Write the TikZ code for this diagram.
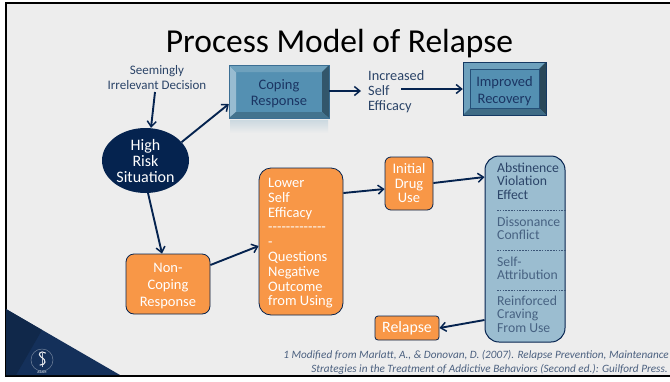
\documentclass[tikz,border=0pt]{standalone}
\usepackage{fontspec}
\setmainfont{Carlito}
\usetikzlibrary{arrows.meta,shapes.geometric}
\definecolor{navy}{HTML}{05234F}
\definecolor{bgc}{HTML}{EDEDED}
\definecolor{orangec}{HTML}{F89747}
\definecolor{steelc}{HTML}{5490B2}
\definecolor{paleb}{HTML}{9BBDD0}
\definecolor{txtb}{HTML}{2B4468}
\definecolor{boxt}{HTML}{1B3563}
\definecolor{cornerm}{HTML}{14305A}
\definecolor{cornerd}{HTML}{10284A}
\tikzset{x=1pt,y=-1pt,
 arrowline/.style={draw=navy,line width=1.9pt,-{Straight Barb[length=5.5pt,width=9pt,line width=1.5pt]}},
 orangebox/.style={draw=navy,line width=0.8pt,fill=orangec,rounded corners=8pt,text=white,inner sep=0pt,align=center,font=\fontsize{14.5}{17}\selectfont},
 plain/.style={text=txtb,align=left,inner sep=0pt,font=\fontsize{14.3}{15}\selectfont},
 blueitem/.style={text=txtb!75!paleb,align=left,inner sep=0pt,anchor=west,font=\fontsize{13.7}{13.3}\selectfont},
 sepline/.style={dash pattern=on 1.6pt off 1.2pt,draw=txtb!85!paleb,line width=0.6pt},
 bevelbox/.style={inner sep=0pt,align=center,text=boxt},
}
\begin{document}
\begin{tikzpicture}
\useasboundingbox (0,0) rectangle (670,381);
\fill[white] (0,0) rectangle (670,381);
\fill[bgc] (5,3) rectangle (670,376);
\draw[black,line width=2pt] (670,3) -- (5.5,3) -- (5.5,376) -- (670,376);
% corner
\fill[cornerm] (6,309) -- (120,375) -- (6,375) -- cycle;
\fill[cornerd] (6,309) -- (42,330) -- (16,375) -- (6,375) -- cycle;
\node[text=black,inner sep=0pt] (title) at (339.5,43.5) {\fontsize{33.5}{33.5}\selectfont Process Model of Relapse};
% logo
\node[circle,draw=white!40!cornerm,line width=0.5pt,minimum size=22pt,inner sep=0pt] (logo) at (42,360) {};
\draw[white!75!cornerm,line width=0.6pt] (logo.north) ++(0,4) -- ++(0,14);
\draw[white!90!cornerm,line width=1.1pt,line cap=round] (45.5,353) .. controls (41,350) and (37,354) .. (41,357) .. controls (47,360) and (46,365) .. (40,365);
\node[text=white!75!cornerm,inner sep=0pt,font=\bfseries\fontsize{3.6}{4}\selectfont] (asam) at (42,372.3) {ASAM};
% coping
\fill[bottom color=bgc,top color=steelc!22!bgc] (230,120) rectangle (328,133);
\fill[steelc] (229,65) rectangle (329,118);
\fill[steelc!60!white] (229,65) -- (236,72) -- (236,112) -- (229,118) -- cycle;
\fill[steelc!85!white] (229,65) -- (329,65) -- (322,72) -- (236,72) -- cycle;
\fill[steelc!60!black] (329,65) -- (329,118) -- (322,112) -- (322,72) -- cycle;
\fill[steelc!80!black] (229,118) -- (329,118) -- (322,112) -- (236,112) -- cycle;
\draw[steelc!70!navy,line width=0.8pt] (229,65) rectangle (329,118);
\node[bevelbox,minimum width=100pt,font=\fontsize{14.5}{16}\selectfont] (coping) at (279,93.5) {Coping\\Response};
% improved
\fill[steelc] (463,62) rectangle (546,115);
\fill[steelc!85!white] (463,62) -- (546,62) -- (539,69) -- (470,69) -- (470,108) -- (463,115) -- cycle;
\fill[steelc!50!black] (546,62) -- (546,115) -- (539,108) -- (539,69) -- cycle;
\fill[steelc!75!black] (463,115) -- (546,115) -- (539,108) -- (470,108) -- cycle;
\draw[navy!60!steelc,line width=0.5pt] (470,69) rectangle (539,108);
\draw[navy!80!steelc,line width=0.8pt] (463,62) rectangle (546,115);
\node[bevelbox,minimum width=83pt,font=\fontsize{14.5}{17}\selectfont] (improved) at (504.5,91) {Improved\\Recovery};
% ellipse
\node[ellipse,fill=navy,minimum width=87pt,minimum height=65pt,inner sep=0pt,text=white,align=center,font=\fontsize{16}{16}\selectfont] (high) at (145.5,160.5) {High\\Risk\\Situation};
\node[align=center,text=txtb,inner sep=0pt,font=\fontsize{13}{15}\selectfont] (sid) at (157,78) {Seemingly\\Irrelevant Decision};
\node[plain,anchor=west] (self) at (368,91.5) {Increased\\Self\\Efficacy};
\coordinate (selfR) at (401,89);
% orange
\node[orangebox,minimum width=84pt,minimum height=60pt,text depth=0pt] (noncoping) at (168,284) {};
\node[text=white,align=center,inner sep=0pt,font=\fontsize{14.5}{17}\selectfont] (noncopingtext) at (168,286.5) {Non-\\Coping\\Response};
\node[orangebox,rounded corners=12pt,minimum width=84pt,minimum height=147pt] (lower) at (301,241.5) {};
\node[text=white,align=left,inner sep=0pt,anchor=north west,font=\fontsize{14.5}{14.8}\selectfont] (lowertext) at (268,178) {Lower\\Self\\Efficacy\\-{}-{}-{}-{}-{}-{}-{}-{}-{}-{}-{}-{}-\\-\\Questions\\Negative\\Outcome\\from Using};
\node[orangebox,rounded corners=6pt,minimum width=48pt,minimum height=53pt,font=\fontsize{14.5}{14.5}\selectfont] (initial) at (409,183.5) {Initial\\Drug\\Use};
\node[orangebox,rounded corners=3pt,minimum width=64pt,minimum height=24pt,font=\fontsize{15.8}{16}\selectfont] (relapse) at (407,328) {Relapse};
% abstinence
\node[draw=navy,line width=1pt,fill=paleb,rounded corners=14pt,minimum width=80pt,minimum height=186pt,inner sep=0pt] (abst) at (525,249) {};
\node[blueitem,text=txtb] (i1) at (497,183) {\begin{tabular}{@{}l@{}}Abstinence\\Violation\\Effect\end{tabular}};
\node[blueitem] (i2) at (497,230) {\begin{tabular}{@{}l@{}}Dissonance\\Conflict\end{tabular}};
\node[blueitem] (i3) at (497,270) {\begin{tabular}{@{}l@{}}Self-\\Attribution\end{tabular}};
\node[blueitem] (i4) at (497,316) {\begin{tabular}{@{}l@{}}Reinforced\\Craving\\From Use\end{tabular}};
\draw[sepline] (497,210) -- (abst.east |- 0,210);
\draw[sepline] (497,250) -- (abst.east |- 0,250);
\draw[sepline] (497,290) -- (abst.east |- 0,290);
% arrows
\draw[arrowline] (155,92) -- (high.north -| 151,0);
\draw[arrowline] (high.27) -- (coping.west |- 0,104);
\draw[arrowline] (coping.east |- 0,91) -- (361,91);
\draw[arrowline] (selfR) -- (improved.west |- 0,89);
\draw[arrowline] (148,193) -- (noncoping.north -| 162,0);
\draw[arrowline] (noncoping.east |- 0,265) -- (lower.west |- 0,246);
\draw[arrowline] (lower.east |- 0,193) -- (initial.west |- 0,189);
\draw[arrowline] (initial.east |- 0,183) -- (abst.west |- 0,177);
\draw[arrowline] (abst.west |- 0,320) -- (relapse.east);
% citation
\node[anchor=east,text=txtb!85!white,inner sep=0pt,font=\itshape\fontsize{11.2}{12}\selectfont] (c1) at (669,355) {1 Modified from Marlatt, A., \& Donovan, D. (2007). Relapse Prevention, Maintenance};
\node[anchor=east,text=txtb!85!white,inner sep=0pt,font=\itshape\fontsize{11.2}{12}\selectfont] (c2) at (668,369) {Strategies in the Treatment of Addictive Behaviors (Second ed.): Guilford Press.};
\end{tikzpicture}
\end{document}
